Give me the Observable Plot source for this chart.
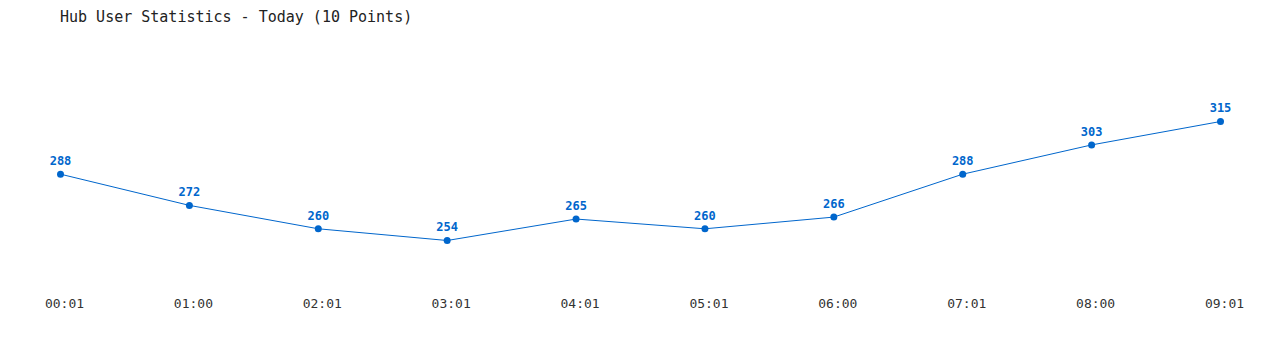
<!DOCTYPE html>
<html>
<head>
<meta charset="utf-8">
<script src="https://cdn.jsdelivr.net/npm/d3@7"></script>
<script src="https://cdn.jsdelivr.net/npm/@observablehq/plot@0.6"></script>
<style>
  html, body { margin: 0; padding: 0; background: #fff; }
  #wrap { position: relative; width: 1280px; height: 350px; }
  #title { position: absolute; left: 60px; top: 8px; font-family: "DejaVu Sans Mono", "Liberation Mono", monospace; font-size: 15px; color: #222; white-space: pre; }
  #chart { position: absolute; left: 0; top: 0; }
</style>
</head>
<body>
<div id="wrap">
  <div id="chart"></div>
  <div id="title">Hub User Statistics - Today (10 Points)</div>
</div>
<script>
const times = ["00:01", "01:00", "02:01", "03:01", "04:01", "05:01", "06:00", "07:01", "08:00", "09:01"];
const users = [288, 272, 260, 254, 265, 260, 266, 288, 303, 315];

const data = times.map((t, i) => ({time: t, users: users[i]}));
const blue = "#0066cc";
const font = "'DejaVu Sans Mono', 'Liberation Mono', monospace";

const chart = Plot.plot({
  width: 1280,
  height: 350,
  marginLeft: 60,
  marginRight: 60,
  marginTop: 0,
  marginBottom: 0,
  style: { fontFamily: font, background: "#fff" },
  x: { type: "point", domain: times, padding: 0, round: false },
  y: { domain: [254, 315], range: [240, 121], axis: null },
  marks: [
    Plot.line(data, { x: "time", y: "users", stroke: blue, strokeWidth: 1 }),
    Plot.dot(data, { x: "time", y: "users", r: 3.5, fill: blue, stroke: "none" }),
    Plot.text(data, { x: "time", y: "users", text: d => String(d.users), dy: -13, fill: blue, fontSize: 12, fontWeight: "bold", fontFamily: font }),
    Plot.axisX({ anchor: "bottom", tickSize: 0, tickPadding: 0, dy: -52, dx: 4, fontSize: 13, color: "#333", label: null, fontFamily: font })
  ]
});
document.getElementById("chart").appendChild(chart);
</script>
</body>
</html>
